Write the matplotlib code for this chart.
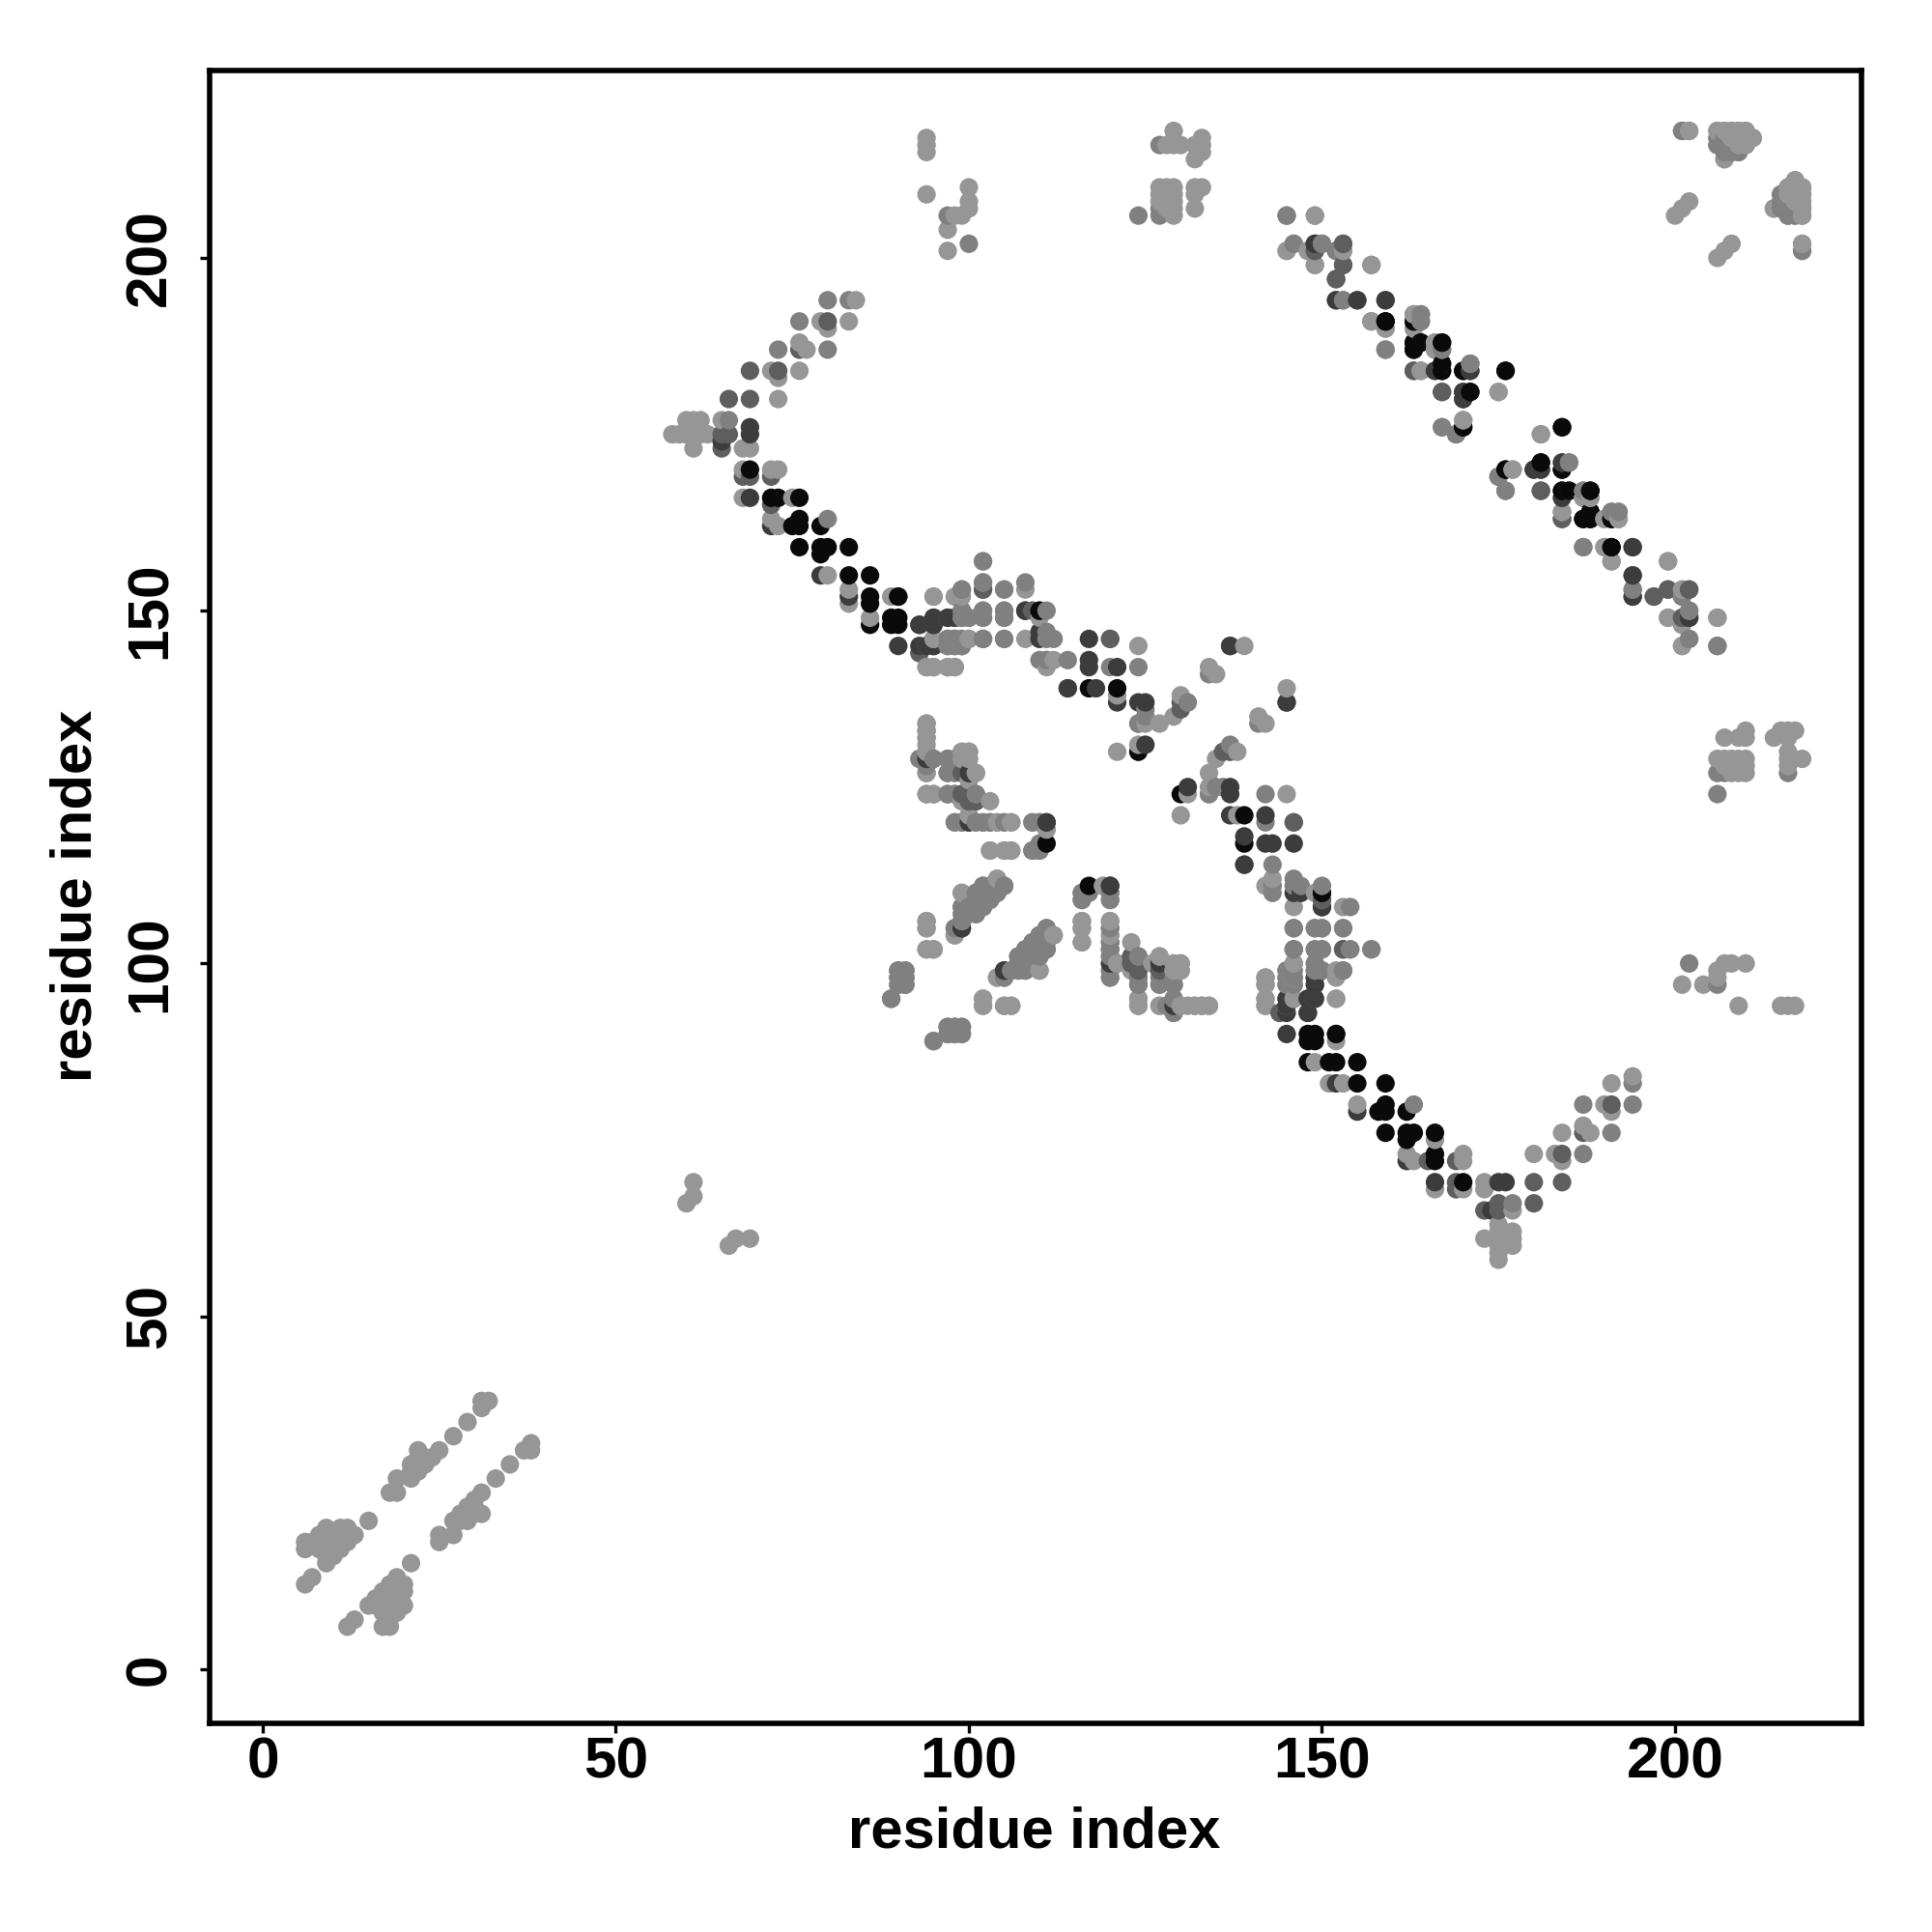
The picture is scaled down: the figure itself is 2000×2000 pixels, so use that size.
import matplotlib
matplotlib.use("Agg")
import matplotlib.pyplot as plt
import numpy as np

plt.rcParams['font.family'] = ['Liberation Sans', 'DejaVu Sans']

# residue contact pairs (i < j), one list per grey level
contacts_light = [
 (6,12),(7,13),(9,15),(9,16),(10,16),(6,17),(6,18),(7,18),(8,17),(8,18),(8,19),(9,17),(9,18),(9,19),(9,20),
 (10,17),(10,18),(10,19),(11,17),(11,18),(11,19),(11,20),(12,18),(12,19),(12,20),(13,19),(15,21),
 (18,25),(19,25),(19,27),(21,27),(21,28),(21,29),(22,28),(22,29),(23,29),(22,30),(22,31),(23,30),(24,30),(25,31),
 (27,33),(29,35),(31,37),(31,38),(32,38),(60,66),(61,67),(61,69),
 (84,194),(79,191),(83,191),(80,190),(76,188),(77,187),(72,184),(76,184),(73,183),(73,180),
 (60,177),(61,177),(62,177),(65,177),(58,175),(59,175),(60,175),(61,175),(62,175),(63,175),(61,173),(68,173),(69,173),
 (68,170),(72,170),(73,170),(68,166),(75,166),(72,163),(73,162),(80,155),(83,153),(83,151),(86,149),(89,152),(95,152),(98,152),
 (102,157),(102,154),(105,153),(108,153),(100,149),(105,149),(110,149),(95,146),(100,146),(108,146),(124,145),(93,144),
 (94,142),(95,142),(97,142),(98,142),(112,143),(111,142),(111,143),(121,138),(121,130),(124,131),(124,134),(127,134),
 (130,138),(129,135),(135,141),(134,142),(139,145),(125,134),
 (94,134),(94,133),(94,132),(93,129),(94,130),(95,129),(99,130),(100,130),(99,129),(100,129),(94,127),(97,127),(101,127),
 (100,126),(94,124),(95,124),(99,123),(103,123),(100,121),(98,120),(106,120),(105,120),(104,120),(109,120),(111,119),
 (103,116),(105,116),(106,116),(104,112),(99,110),(98,105),(98,104),(94,106),(94,105),(94,102),(95,102),(112,104),
 (110,99),(104,98),(102,95),(102,94),(105,94),(106,94),
 (116,106),(116,105),(116,103),(103,123),(121,100),(120,106),(120,104),(119,111),(120,110),(126,100),(127,101),
 (129,100),(130,100),(129,99),(130,99),(127,94),(128,94),(130,94),(131,94),(132,94),(133,94),(134,94),(124,95),(124,94),
 (108,146),(110,149),(108,153),(105,149),(105,153),(102,146),(100,146),(99,145),(98,142),(97,142),(95,142),(94,142),
 (95,146),(95,152),(98,146),(94,127),(97,146),
 (142,98),(142,97),(142,95),(142,94),(146,100),(146,98),(146,95),(145,99),(152,99),(152,95),
 (94,217),(94,216),(94,215),(94,209),(100,210),(100,208),(100,207),(99,206),(98,206),(97,204),(97,201),
 (129,218),(128,216),(129,216),(130,216),(132,216),(133,217),(133,216),(133,215),(132,214),
 (127,210),(128,210),(129,210),(127,209),(128,209),(129,209),(127,208),(128,208),(129,208),(128,207),(129,207),(129,206),
 (132,210),(133,210),(132,209),(132,207),
 (201,218),(202,218),(200,206),(201,207),(202,208),(206,218),(207,218),(208,218),(209,218),(210,218),
 (208,217),(209,217),(210,217),(211,217),(208,216),(209,216),(210,216),(208,215),(209,215),(207,214),
 (217,211),(216,210),(217,210),(218,210),(216,209),(217,209),(218,209),(216,208),(217,208),(218,208),(214,207),
 (217,207),(218,207),(217,206),(218,206),(218,202),
 (149,206),(145,201),(148,201),(153,201),(149,199),(157,199),(157,191),(159,190),(163,192),(164,192),(163,190),
 (166,188),(166,187),(164,184),(175,181),(170,177),(181,175),(177,170),(187,166),(188,166),(184,164),(190,163),(192,163),
 (190,159),(191,157),(199,157),(201,153),(199,149),(206,149),(201,148),(201,145),
]
contacts_mid = [
 (80,194),(83,194),(76,191),(73,187),(80,187),(66,177),(80,163),(99,153),(108,154),(102,150),(105,150),(99,150),(99,149),
 (102,149),(111,150),(102,146),(105,146),(97,146),(98,146),(99,146),(97,145),(98,145),(99,145),(94,145),(111,146),(112,146),
 (111,147),(110,143),(111,143),(120,142),(124,142),(120,146),(124,134),(125,135),(125,136),(131,137),(134,141),(114,143),
 (97,129),(94,128),(97,124),(98,124),(101,124),(99,120),(101,120),(102,120),(103,120),(110,120),(109,116),(110,116),(110,117),
 (105,111),(102,111),(103,111),(101,110),(102,110),(103,110),(104,110),(101,109),(102,109),(103,109),(99,108),(100,108),
 (101,108),(102,108),(101,107),(99,107),(99,106),
 (90,99),(91,99),(90,98),(91,98),(90,97),(91,97),(89,95),(111,105),(110,104),(111,104),(109,103),(110,103),(111,103),
 (108,102),(109,102),(110,102),(111,102),(107,101),(108,101),(109,101),(110,101),(107,100),(108,100),(106,99),(108,99),(105,98),
 (97,91),(98,91),(99,91),(97,90),(98,90),(99,90),(95,89),
 (116,110),(116,109),(120,109),(120,105),(120,103),(120,102),(120,101),(120,99),(120,98),(124,101),(124,98),(124,97),
 (127,99),(127,98),(127,97),(129,98),(129,97),(129,95),(129,93),
 (112,146),(111,146),(111,147),(110,143),(108,150),(109,150),(111,150),(108,154),(105,146),(105,150),
 (146,105),(150,105),(149,102),(150,102),(154,102),(157,102),(149,100),(149,99),(150,99),(153,99),(145,98),(145,97),(149,105),
 (153,105),(146,102),
 (100,202),(97,206),(127,216),(127,207),(127,206),(124,206),
 (206,217),(207,217),(206,216),(207,216),(207,215),(215,209),(215,208),(216,207),(216,206),(216,208),(218,201),
 (145,206),(146,202),(150,202),(152,201),(159,187),(153,194),(164,191),(167,187),(171,185),(167,176),(169,175),(175,169),
 (176,167),(184,171),(185,171),(187,167),(191,164),(192,164),(187,159),(194,153),(201,152),(202,150),(202,146),(206,145),
]
contacts_shade = [
 (80,191),(76,187),(69,184),(73,184),(65,175),(66,175),(66,180),(69,180),(65,173),(68,169),(69,169),(72,169),(72,165),(102,153),(109,150),
 (108,150),(93,144),(94,145),(97,149),(98,149),(95,149),(120,146),(137,145),(130,136),(130,137),(114,139),
 (94,129),(99,127),(99,124),(100,124),(100,123),(101,123),(100,120),(123,101),(123,100),(124,99),(127,100),(124,100),
 (153,102),(108,150),(153,202),(149,201),(153,199),(152,197),(152,194),(155,194),(159,194),(163,184),(167,181),(170,181),
 (170,180),(181,167),(184,166),(184,163),(199,153),(202,153),(197,152),(201,149),
]
contacts_dark = [
 (69,176),(69,175),(65,174),(69,166),(72,162),(90,152),(93,148),(95,148),(95,145),(93,145),(90,145),(83,152),(79,155),(108,150),(110,150),
 (110,147),(110,146),(117,146),(117,143),(117,142),(121,142),(121,137),(124,137),(125,137),(125,131),(118,139),
 (114,139),(100,127),(111,120),(99,105),(105,99),(120,111),(120,100),(129,94),(111,120),
 (149,98),(149,97),(145,95),(148,95),(149,95),(145,94),(148,93),(145,137),(110,150),
 (149,202),(166,184),(171,184),(180,170),(181,170),(185,167),(194,159),(194,155),(194,152),(202,149),
]
contacts_black = [
 (69,170),(72,166),(73,166),(76,166),(76,163),(76,162),(75,162),(79,162),(76,159),(79,159),(80,159),(83,159),(79,158),
 (83,155),(86,155),(86,152),(86,151),(89,148),(90,148),(89,149),(90,149),(90,152),(86,148),
 (117,139),(121,139),(124,130),(111,117),(110,150),
 (159,191),(163,191),(163,188),(164,188),(167,188),(163,187),(167,185),(167,184),(170,184),(176,184),(171,181),(170,176),
 (184,176),(181,171),(176,170),(184,170),(184,167),(188,167),(187,163),(188,163),(188,164),(191,163),(191,159),
]
grey_levels = ['#969696', '#808080', '#5e5e5e', '#3c3c3c', '#0a0a0a']
all_groups = [contacts_light, contacts_mid, contacts_shade, contacts_dark, contacts_black]
ticks = [0, 50, 100, 150, 200]
axis_label = 'residue index'

xs, ys, cs = [], [], []
for group, grey in zip(all_groups, grey_levels):
    for i, j in dict.fromkeys(group):
        xs += [i, j]
        ys += [j, i]
        cs += [grey, grey]
xs, ys, cs = np.array(xs), np.array(ys), np.array(cs)
order = np.lexsort((ys, xs))

fig = plt.figure(figsize=(20, 20), dpi=100)
ax = fig.add_axes([216.7/2000, 1-1784/2000, (1927-216.7)/2000, (1784-72.7)/2000])
ax.scatter(xs[order], ys[order], c=list(cs[order]), s=190, linewidths=0, zorder=2)
ax.set_xlim(-7.56, 226.4)
ax.set_ylim(-7.7, 226.6)
ax.set_xticks(ticks)
ax.set_yticks(ticks)
for s in ax.spines.values():
    s.set_linewidth(4.0)
ax.tick_params(axis='x', length=7, width=2.4, pad=3, labelsize=43.5)
ax.tick_params(axis='y', length=7, width=2.4, pad=17, labelsize=43.5)
for t in ax.get_xticklabels() + ax.get_yticklabels():
    t.set_fontweight('bold')
for t in ax.get_yticklabels():
    t.set_rotation(90)
    t.set_va('center')
ax.set_xlabel(axis_label, fontsize=43, fontweight='bold')
ax.set_ylabel(axis_label, fontsize=43, fontweight='bold')
ax.xaxis.set_label_coords((1071-216.7)/(1927-216.7), -(1897-1784)/(1784-72.7), transform=ax.transAxes)
ax.xaxis.label.set_va('center')
ax.yaxis.set_label_coords(-(216.7-79)/(1927-216.7), (1784-927)/(1784-72.7), transform=ax.transAxes)
ax.yaxis.label.set_va('center')
fig.savefig('out.png', dpi=100, facecolor='white')
